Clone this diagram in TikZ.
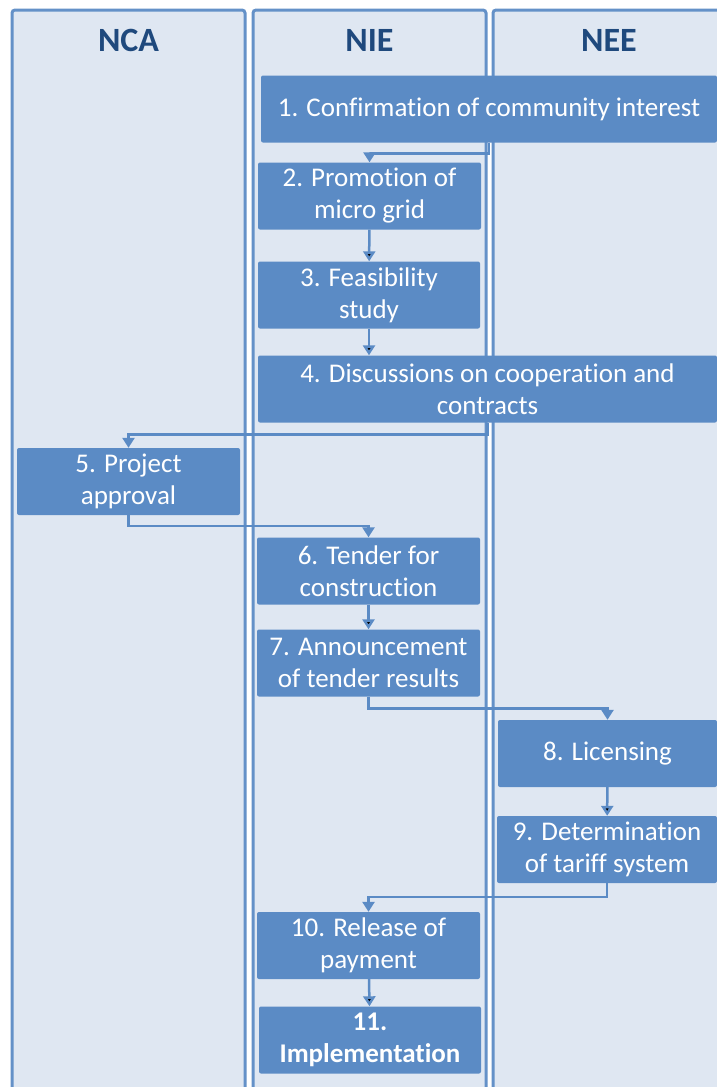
\documentclass[tikz,border=0pt]{standalone}
\usepackage{fontspec}
\setmainfont{Carlito}[Ligatures=NoCommon]
\usetikzlibrary{arrows.meta}
\definecolor{boxblue}{RGB}{91,139,197}
\definecolor{lanefill}{RGB}{223,231,242}
\definecolor{laneline}{RGB}{100,145,200}
\definecolor{headblue}{RGB}{31,73,125}

\begin{document}
\begin{tikzpicture}[x=1pt,y=-1pt,>={Triangle[width=12pt,length=10pt]},
    lane/.style={draw=laneline,fill=lanefill,line width=3pt,rounded corners=3pt},
    head/.style={text=headblue,font=\fontsize{34}{38}\selectfont\bfseries},
    task/.style={fill=boxblue,text=white,rounded corners=2pt,minimum height=67pt,
        align=center,inner sep=0pt,font=\fontsize{27}{32}\selectfont},
    flow/.style={->,draw=boxblue,line width=2.5pt}]
            \path[use as bounding box,fill=white](0,0)rectangle(717,1087);
            \clip(0,0)rectangle(717,1087);
            % swim lanes
            \draw[lane](12,10)rectangle(245,1110);
            \draw[lane](253,10)rectangle(486,1110);
            \draw[lane](493,10)rectangle(740,1110);
            \node[head](NCA)at(128.5,40){NCA};
            \node[head](NIE)at(369.5,40){NIE};
            \node[head](NEE)at(609,40){NEE};
            % steps
            \node[task,minimum width=456pt](n1)at(489,109){1. Confirmation of community interest};
            \node[task,minimum width=223pt](n2)at(369.5,196){2. Promotion of\\micro grid};
            \node[task,minimum width=222pt](n3)at(369,295){3. Feasibility\\study};
            \node[task,minimum width=459pt](n4)at(487.5,389){4. Discussions on cooperation and\\contracts};
            \node[task,minimum width=223pt](n5)at(128.5,481.5){5. Project\\approval};
            \node[task,minimum width=223pt](n6)at(368.5,571){6. Tender for\\construction};
            \node[task,minimum width=223pt](n7)at(368.5,663){7. Announcement\\of tender results};
            \node[task,minimum width=219pt](n8)at(607.5,753.5){8. Licensing};
            \node[task,minimum width=220pt](n9)at(607,849.5){9. Determination\\of tariff system};
            \node[task,minimum width=223pt](n10)at(368.5,945.5){10. Release of\\payment};
            \node[task,minimum width=222pt,font=\fontsize{27}{32}\selectfont\bfseries](n11)at(370,1040){11.\\Implementation};
            % connectors
            \draw[flow](n1.south)--++(0,11)-|(n2.north);
            \path[flow](n2) edge (n3)
            (n3) edge (n3|-n4.north)
            (n6) edge (n7)
            (n8) edge (n9)
            (n10) edge (n11);
            \draw[flow](n4.south)--++(0,12)-|(n5.north);
            \draw[flow](n5.south)--++(0,11)-|(n6.north);
            \draw[flow](n7.south)--++(0,12)-|(n8.north);
            \draw[flow](n9.south)--++(0,14)-|(n10.north);
        \end{tikzpicture}
\end{document}
